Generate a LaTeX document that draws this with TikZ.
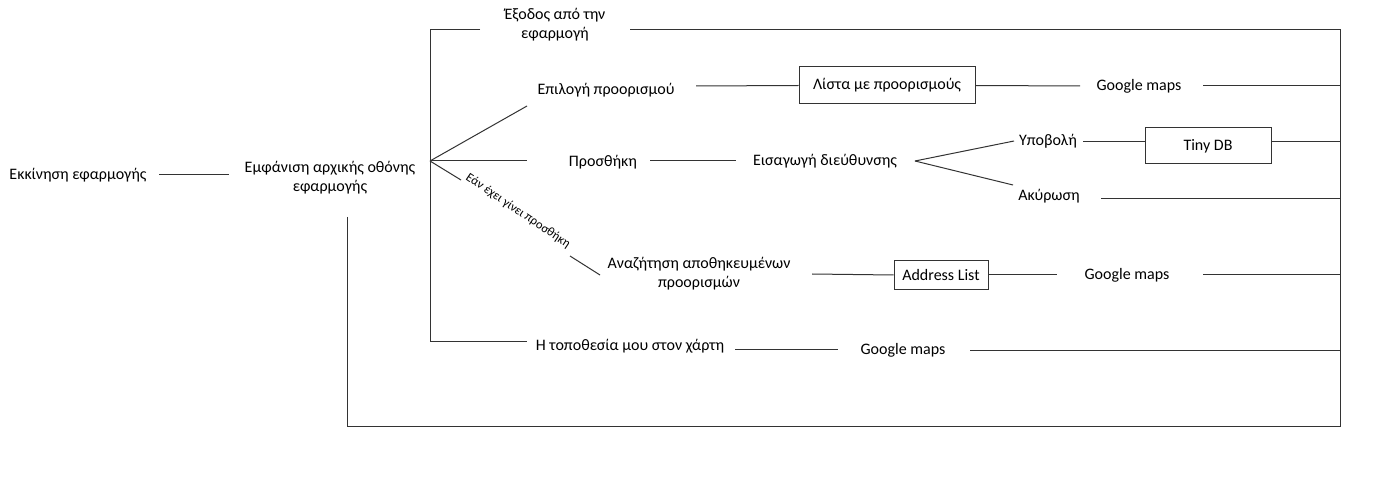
\documentclass[tikz,border=0pt]{standalone}
\usepackage{fontspec}
\setmainfont{Carlito}
\begin{document}
\begin{tikzpicture}[x=1pt,y=-1pt,line width=1pt,
  every node/.style={font=\fontsize{16}{19}\selectfont,inner sep=0pt,text=black},
  lbl/.style={align=center},
  boxn/.style={draw=black!80,line width=1pt},
  conn/.style={draw=black!80},
  small/.style={font=\fontsize{12.5}{14}\selectfont}]
\useasboundingbox[fill=white] (0,0) rectangle (1389,486);
% nodes
\node (start) at (78,175) {Εκκίνηση εφαρμογής};
\node[lbl] (home) at (330,178) {Εμφάνιση αρχικής οθόνης\\εφαρμογής};
\node[lbl] (exit) at (555,25) {Έξοδος από την\\εφαρμογή};
\node (choose) at (606,90) {Επιλογή προορισμού};
\node[boxn,minimum width=176pt,minimum height=37pt] (list) at (887,85.5) {Λίστα με προορισμούς};
\node (gm1) at (1139,86) {Google maps};
\node (add) at (603,162) {Προσθήκη};
\node (addr) at (825,161) {Εισαγωγή διεύθυνσης};
\node (submit) at (1048,141) {Υποβολή};
\node[boxn,minimum width=126pt,minimum height=36pt] (tiny) at (1208,146) {Tiny DB};
\node (cancel) at (1049,196) {Ακύρωση};
\node[lbl] (search) at (699,274) {Αναζήτηση αποθηκευμένων\\προορισμών};
\node[boxn,minimum width=94pt,minimum height=29pt] (alist) at (941,275.5) {Address List};
\node (gm2) at (1127,275) {Google maps};
\node (loc) at (630,346) {Η τοποθεσία μου στον χάρτη};
\node (gm3) at (903,350) {Google maps};
\node[small,rotate=-34] (cond) at (518,211) {Εάν έχει γίνει προσθήκη};
% coordinates
\coordinate (hub) at (430,161);
\coordinate (tl) at (430,30);
\coordinate (bl) at (430,341);
\coordinate (tr) at (1340,30);
\coordinate (br) at (1340,426);
\coordinate (hb) at (347,426);
\coordinate (ht) at (347,217);
% connectors
\draw[conn] (159,175) -- (229,175);
\draw[conn] (ht) -- (hb) -- (br) -- (tr) -- (630,30);
\draw[conn] (480,30) -- (tl) -- (bl) -- (527,341);
\draw[conn] (hub) -- (527,106);
\draw[conn] (hub) -- (527,161);
\draw[conn] (hub) -- (461,180);
\draw[conn] (570,256) -- (600,275);
\draw[conn] (696,86) -- (list.west);
\draw[conn] (list.east) -- (1080,86);
\draw[conn] (1203,86) -- (1340,86);
\draw[conn] (650,161) -- (736,161);
\draw[conn] (915,161) -- (1014,141);
\draw[conn] (915,161) -- (1013,185);
\draw[conn] (1083,142) -- (tiny.west |- 0,142);
\draw[conn] (tiny.east |- 0,142) -- (1340,142);
\draw[conn] (1101,199) -- (1340,199);
\draw[conn] (812,274) -- (alist.west |- 0,275);
\draw[conn] (alist.east |- 0,275) -- (1057,275);
\draw[conn] (1203,275) -- (1340,275);
\draw[conn] (735,349) -- (838,349);
\draw[conn] (970,350) -- (1340,350);
\end{tikzpicture}
\end{document}
